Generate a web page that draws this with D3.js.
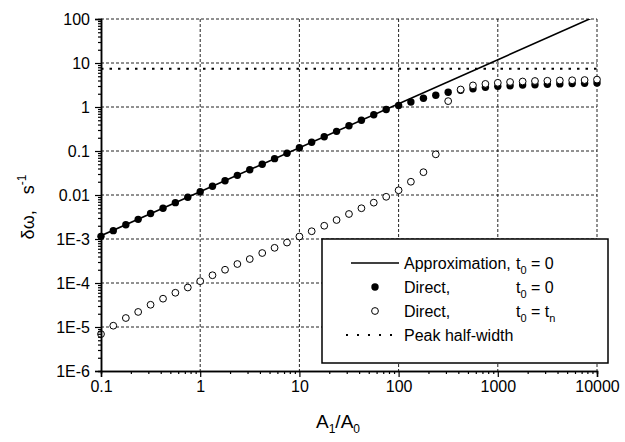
<!DOCTYPE html>
<html>
<head>
<meta charset="utf-8">
<script src="https://d3js.org/d3.v7.min.js"></script>
<style>
body { margin: 0; background: #fff; }
text { font-family: "Liberation Sans", Arial, sans-serif; fill: #000; }
</style>
</head>
<body>
<script>
// A1/A0 values of the computed points (8 per decade)
var ratioValues = [0.1, 0.133, 0.178, 0.237, 0.316, 0.422, 0.562, 0.75,
	1, 1.33, 1.78, 2.37, 3.16, 4.22, 5.62, 7.5,
	10, 13.3, 17.8, 23.7, 31.6, 42.2, 56.2, 75,
	100, 133, 178, 237, 316, 422, 562, 750,
	1000, 1330, 1780, 2370, 3160, 4220, 5620, 7500, 10000];

// Direct, t0 = 0 (filled circles)
var directZero = [0.00115, 0.00155, 0.0021, 0.0028, 0.0038, 0.005, 0.0067, 0.0089,
	0.0119, 0.0158, 0.021, 0.028, 0.0376, 0.05, 0.067, 0.089,
	0.119, 0.158, 0.21, 0.28, 0.375, 0.5, 0.665, 0.88,
	1.08, 1.3, 1.58, 1.85, 2.16, 2.4, 2.6, 2.8,
	2.95, 3.05, 3.15, 3.2, 3.3, 3.35, 3.4, 3.45, 3.5];

// Direct, t0 = tn (open circles)
var directN = [6.9e-6, 1.07e-5, 1.6e-5, 2.2e-5, 3.2e-5, 4.4e-5, 6.0e-5, 7.9e-5,
	1.1e-4, 1.5e-4, 2.0e-4, 2.7e-4, 3.5e-4, 4.8e-4, 6.3e-4, 8.3e-4,
	1.14e-3, 1.5e-3, 2.0e-3, 2.7e-3, 3.7e-3, 5.0e-3, 6.7e-3, 9.1e-3,
	0.0128, 0.020, 0.033, 0.084, 1.36, 2.5, 3.1, 3.35,
	3.55, 3.7, 3.8, 3.9, 3.95, 4.0, 4.05, 4.1, 4.2];

// Approximation, t0 = 0 (straight line)
var approxX = [0.1, 10000];
var approxY = [0.00119, 119];

// Peak half-width
var peakWidth = 7.4;

var xTickValues = [0.1, 1, 10, 100, 1000, 10000];
var xTickLabels = ["0.1", "1", "10", "100", "1000", "10000"];
var yTickValues = [1e-6, 1e-5, 1e-4, 1e-3, 0.01, 0.1, 1, 10, 100];
var yTickLabels = ["1E-6", "1E-5", "1E-4", "1E-3", "0.01", "0.1", "1", "10", "100"];

var width = 625, height = 442;
var plotLeft = 101, plotRight = 597, plotTop = 19, plotBottom = 371;

var svg = d3.select("body").append("svg").attr("width", width).attr("height", height);

var x = d3.scaleLog().domain([0.1, 10000]).range([plotLeft, plotRight]);
var y = d3.scaleLog().domain([1e-6, 100]).range([plotBottom, plotTop]);

svg.append("clipPath").attr("id", "plot").append("rect")
	.attr("x", plotLeft).attr("y", plotTop)
	.attr("width", plotRight - plotLeft).attr("height", plotBottom - plotTop);

//Grid lines
svg.append("g").selectAll("line").data(xTickValues.slice(1)).enter().append("line")
	.attr("x1", function(d) { return x(d); }).attr("x2", function(d) { return x(d); })
	.attr("y1", plotTop).attr("y2", plotBottom)
	.style("stroke", "#222").style("stroke-width", 1).style("stroke-dasharray", "3,2");
svg.append("g").selectAll("line").data(yTickValues.slice(1)).enter().append("line")
	.attr("x1", plotLeft).attr("x2", plotRight)
	.attr("y1", function(d) { return y(d); }).attr("y2", function(d) { return y(d); })
	.style("stroke", "#222").style("stroke-width", 1).style("stroke-dasharray", "3,2");

//Approximation line
var approx = approxX.map(function(d, i) { return [d, approxY[i]]; });
svg.append("path").datum(approx).attr("clip-path", "url(#plot)")
	.attr("d", d3.line().x(function(d) { return x(d[0]); }).y(function(d) { return y(d[1]); }))
	.style("fill", "none").style("stroke", "#000").style("stroke-width", 1.6);

//Peak half-width
svg.append("line").attr("x1", x(0.1)).attr("x2", x(10000))
	.attr("y1", y(peakWidth)).attr("y2", y(peakWidth))
	.style("stroke", "#000").style("stroke-width", 2.2).style("stroke-dasharray", "2.5,6");

//Filled points
svg.append("g").selectAll("circle").data(directZero).enter().append("circle")
	.attr("cx", function(d, i) { return x(ratioValues[i]); })
	.attr("cy", function(d) { return y(d); })
	.attr("r", 3.7).style("fill", "#000");

//Open points
svg.append("g").selectAll("circle").data(directN).enter().append("circle")
	.attr("cx", function(d, i) { return x(ratioValues[i]); })
	.attr("cy", function(d) { return y(d); })
	.attr("r", 3.4).style("fill", "#fff").style("stroke", "#000").style("stroke-width", 1);

//Axes
var yMinor = y.ticks().filter(function(d) { return yTickValues.indexOf(d) < 0; });
var xMinor = x.ticks().filter(function(d) { return xTickValues.indexOf(d) < 0; });

svg.append("g").attr("transform", "translate(" + plotLeft + ",0)")
	.call(d3.axisLeft(y).tickValues(yTickValues).tickSize(6).tickPadding(5)
		.tickFormat(function(d, i) { return yTickLabels[i]; }));
svg.append("g").attr("transform", "translate(" + plotLeft + ",0)")
	.call(d3.axisLeft(y).tickValues(yMinor).tickSize(3).tickFormat(""));

svg.append("g").attr("transform", "translate(0," + plotBottom + ")")
	.call(d3.axisBottom(x).tickValues(xTickValues).tickSize(6).tickPadding(4)
		.tickFormat(function(d, i) { return xTickLabels[i]; }));
svg.append("g").attr("transform", "translate(0," + plotBottom + ")")
	.call(d3.axisBottom(x).tickValues(xMinor).tickSize(3).tickFormat(""));

svg.selectAll(".domain").style("stroke-width", 1.5);
svg.selectAll(".tick line").style("stroke-width", 1.2);
svg.selectAll(".tick text").style("font-size", "16px").style("font-family", "'Liberation Sans', Arial, sans-serif");

//Axis titles
var xTitle = svg.append("text").attr("x", 338).attr("y", 428).attr("text-anchor", "middle").style("font-size", "19px");
xTitle.append("tspan").text("A");
xTitle.append("tspan").attr("dy", 5).style("font-size", "12px").text("1");
xTitle.append("tspan").attr("dy", -5).text("/A");
xTitle.append("tspan").attr("dy", 5).style("font-size", "12px").text("0");

var yTitle = svg.append("text").attr("transform", "translate(34,207) rotate(-90)")
	.attr("text-anchor", "middle").style("font-size", "18px");
yTitle.append("tspan").text("\u03b4\u03c9,");
yTitle.append("tspan").attr("dx", 16).text("s");
yTitle.append("tspan").attr("dy", -8).style("font-size", "12px").text("-1");

//Legend
var legend = svg.append("g");
legend.append("rect").attr("x", 322).attr("y", 239).attr("width", 286).attr("height", 124)
	.style("fill", "#fff").style("stroke", "#000").style("stroke-width", 1.5);

var rowY = [263, 287, 311, 335];
legend.append("line").attr("x1", 351).attr("x2", 399).attr("y1", rowY[0]).attr("y2", rowY[0])
	.style("stroke", "#000").style("stroke-width", 1.6);
legend.append("circle").attr("cx", 375).attr("cy", rowY[1]).attr("r", 3.7).style("fill", "#000");
legend.append("circle").attr("cx", 375).attr("cy", rowY[2]).attr("r", 3.4)
	.style("fill", "#fff").style("stroke", "#000").style("stroke-width", 1);
legend.append("line").attr("x1", 346).attr("x2", 396).attr("y1", rowY[3]).attr("y2", rowY[3])
	.style("stroke", "#000").style("stroke-width", 2).style("stroke-dasharray", "2,9");

function legendText(row, label, sub, rest, subEnd) {
	var t = legend.append("text").attr("x", 404).attr("y", rowY[row] + 6).style("font-size", "16px");
	t.append("tspan").text(label);
	if (sub != null) {
		var t2 = legend.append("text").attr("x", 516).attr("y", rowY[row] + 6).style("font-size", "16px");
		t2.append("tspan").text("t");
		t2.append("tspan").attr("dy", 5).style("font-size", "11px").text(sub);
		t2.append("tspan").attr("dy", -5).text(rest);
		if (subEnd != null) {
			t2.append("tspan").attr("dy", 5).style("font-size", "11px").text(subEnd);
		}
	}
}
legendText(0, "Approximation,", "0", " = 0");
legendText(1, "Direct,", "0", " = 0");
legendText(2, "Direct,", "0", " = t", "n");
legendText(3, "Peak half-width");
</script>
</body>
</html>
